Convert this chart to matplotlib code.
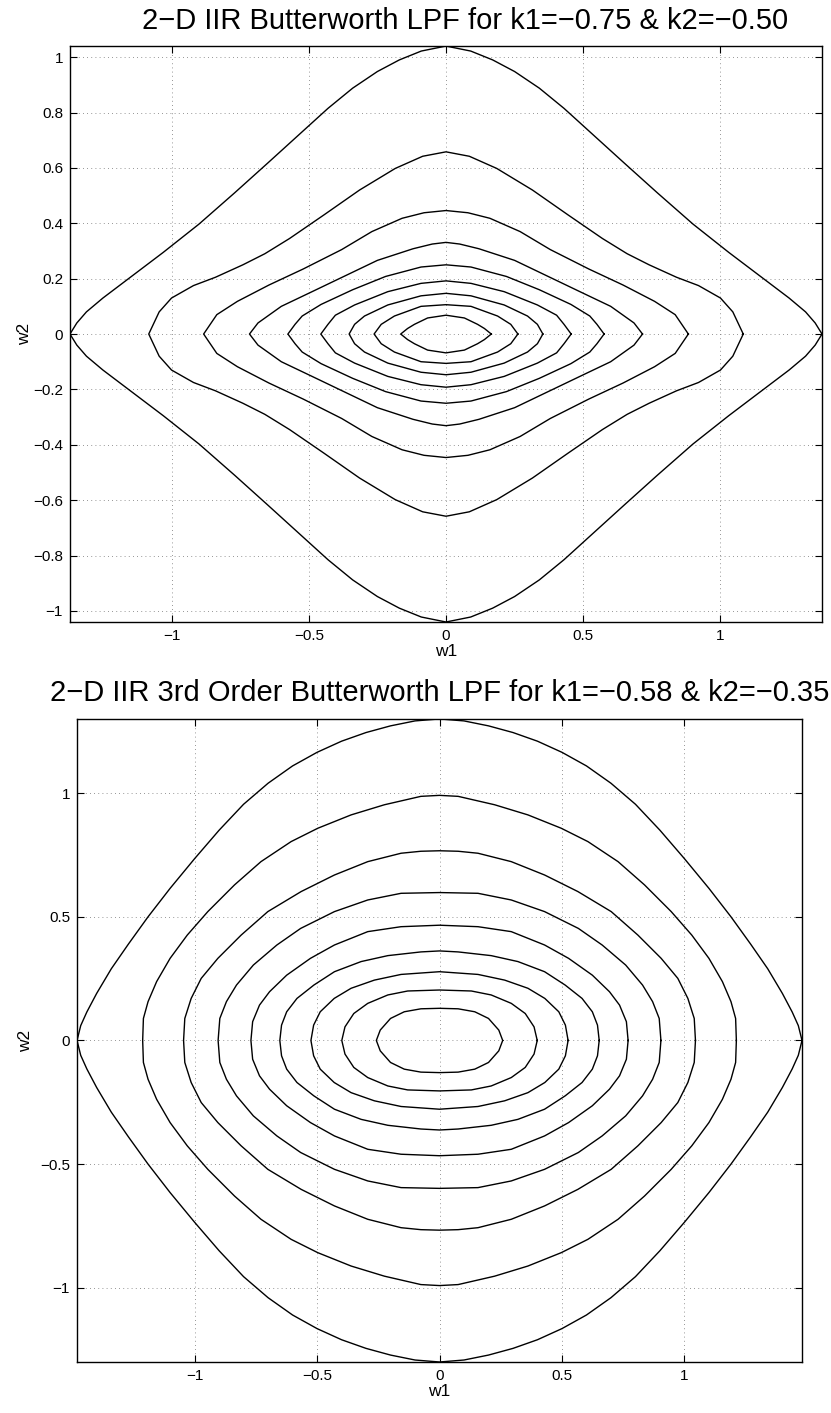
import matplotlib
matplotlib.use("Agg")
import matplotlib.pyplot as plt
import numpy as np

plt.rcParams['font.family'] = ['Liberation Sans', 'DejaVu Sans']

# ---------------- data (first-quadrant contour profiles, mirrored) ----------------
title_top = "2\u2212D IIR Butterworth LPF for k1=\u22120.75 & k2=\u22120.50"
title_bot = "2\u2212D IIR 3rd Order Butterworth LPF for k1=\u22120.58 & k2=\u22120.35"

top_xlim = 1.37
top_ylim = 1.04
top_xticks = [-1, -0.5, 0, 0.5, 1]
top_yticks = [-1, -0.8, -0.6, -0.4, -0.2, 0, 0.2, 0.4, 0.6, 0.8, 1]

# each contour: w1 values from the w1-axis tip to the w2-axis top, and matching w2 values
top_w1 = [
    [0.165, 0.14, 0.115, 0.067, 0.0],
    [0.262, 0.236, 0.188, 0.091, 0.0],
    [0.353, 0.333, 0.297, 0.212, 0.091, 0.0],
    [0.456, 0.43, 0.403, 0.333, 0.212, 0.091, 0.0],
    [0.576, 0.55, 0.524, 0.455, 0.34, 0.22, 0.091, 0.0],
    [0.716, 0.685, 0.60, 0.49, 0.37, 0.25, 0.12, 0.05, 0.0],
    [0.883, 0.835, 0.76, 0.645, 0.52, 0.38, 0.27, 0.16, 0.08, 0.0],
    [1.083, 1.045, 1.0, 0.92, 0.84, 0.74, 0.66, 0.57, 0.445, 0.315, 0.185, 0.085, 0.0],
    [1.37, 1.345, 1.31, 1.25, 1.15, 1.03, 0.90, 0.77, 0.65, 0.53, 0.43, 0.34, 0.25, 0.17, 0.09, 0.0],
]
top_w2 = [
    [0.0, 0.02, 0.035, 0.058, 0.068],
    [0.0, 0.035, 0.065, 0.100, 0.106],
    [0.0, 0.035, 0.065, 0.105, 0.138, 0.147],
    [0.0, 0.035, 0.068, 0.105, 0.153, 0.183, 0.192],
    [0.0, 0.035, 0.065, 0.107, 0.16, 0.208, 0.242, 0.25],
    [0.0, 0.04, 0.10, 0.152, 0.209, 0.266, 0.308, 0.325, 0.331],
    [0.0, 0.07, 0.118, 0.177, 0.235, 0.305, 0.37, 0.418, 0.438, 0.446],
    [0.0, 0.08, 0.13, 0.175, 0.205, 0.25, 0.29, 0.345, 0.43, 0.52, 0.598, 0.642, 0.658],
    [0.0, 0.04, 0.08, 0.13, 0.205, 0.295, 0.397, 0.51, 0.617, 0.725, 0.815, 0.888, 0.948, 0.99, 1.022, 1.04],
]

bot_xlim = 1.48
bot_ylim = 1.30
bot_xticks = [-1, -0.5, 0, 0.5, 1]
bot_yticks = [-1, -0.5, 0, 0.5, 1]

bot_w1 = [
    [0.258, 0.242, 0.200, 0.144, 0.076, 0.0],
    [0.399, 0.386, 0.350, 0.293, 0.211, 0.130, 0.0],
    [0.525, 0.514, 0.487, 0.430, 0.361, 0.266, 0.157, 0.0],
    [0.652, 0.645, 0.624, 0.582, 0.513, 0.429, 0.320, 0.211, 0.076, 0.0],
    [0.770, 0.763, 0.735, 0.694, 0.624, 0.527, 0.429, 0.293, 0.157, 0.0],
    [0.904, 0.897, 0.870, 0.829, 0.760, 0.664, 0.567, 0.429, 0.293, 0.157, 0.0],
    [1.045, 1.040, 1.014, 0.973, 0.905, 0.810, 0.701, 0.565, 0.429, 0.293, 0.157, 0.076, 0.0],
    [1.212, 1.209, 1.190, 1.155, 1.100, 1.030, 0.946, 0.837, 0.729, 0.606, 0.497, 0.361, 0.225, 0.076, 0.0],
    [1.48, 1.465, 1.44, 1.40, 1.34, 1.27, 1.19, 1.10, 1.00, 0.90, 0.80, 0.70, 0.60, 0.50, 0.40, 0.30, 0.20, 0.10, 0.0],
]
bot_w2 = [
    [0.0, 0.042, 0.089, 0.116, 0.128, 0.130],
    [0.0, 0.055, 0.109, 0.150, 0.184, 0.200, 0.204],
    [0.0, 0.062, 0.116, 0.170, 0.211, 0.244, 0.267, 0.278],
    [0.0, 0.062, 0.116, 0.170, 0.224, 0.278, 0.319, 0.343, 0.358, 0.362],
    [0.0, 0.076, 0.143, 0.197, 0.264, 0.332, 0.386, 0.440, 0.460, 0.466],
    [0.0, 0.089, 0.157, 0.224, 0.305, 0.386, 0.453, 0.521, 0.568, 0.595, 0.598],
    [0.0, 0.089, 0.170, 0.251, 0.332, 0.426, 0.521, 0.602, 0.669, 0.723, 0.757, 0.765, 0.767],
    [0.0, 0.089, 0.157, 0.238, 0.332, 0.426, 0.521, 0.629, 0.723, 0.804, 0.858, 0.912, 0.953, 0.987, 0.991],
    [0.0, 0.06, 0.115, 0.19, 0.29, 0.39, 0.50, 0.615, 0.735, 0.85, 0.955, 1.04, 1.11, 1.165, 1.21, 1.245, 1.272, 1.292, 1.30],
]


def closed_contour(qx, qy):
    qx = np.asarray(qx, float)
    qy = np.asarray(qy, float)
    xs = np.concatenate([qx, -qx[::-1], -qx, qx[::-1]])
    ys = np.concatenate([qy, qy[::-1], -qy, -qy[::-1]])
    return xs, ys


def style_axes(ax, xlim, ylim, xticks, yticks, ylabelpad):
    ax.set_xlim(-xlim, xlim)
    ax.set_ylim(-ylim, ylim)
    ax.set_xticks(xticks)
    ax.set_yticks(yticks)
    ax.set_xticklabels([f"{t:g}".replace("-", "\u2212") for t in xticks])
    ax.set_yticklabels([f"{t:g}".replace("-", "\u2212") for t in yticks])
    ax.tick_params(direction='in', top=True, right=True, length=5, width=0.8,
                   labelsize=11, pad=5)
    ax.grid(True, color='0.45', linestyle=(0, (1, 4)), linewidth=0.6)
    for s in ax.spines.values():
        s.set_linewidth(1.0)
    ax.set_xlabel('w1', fontsize=12.5, labelpad=1)
    ax.set_ylabel('w2', fontsize=12.5, labelpad=ylabelpad)


fig = plt.figure(figsize=(8.31, 14.13), dpi=100)

ax1 = fig.add_axes([0.0842, 0.5598, 0.9050, 0.4076])
for qx, qy in zip(top_w1, top_w2):
    xs, ys = closed_contour(qx, qy)
    ax1.plot(xs, ys, color='black', linewidth=1.0, clip_on=True)
style_axes(ax1, top_xlim, top_ylim, top_xticks, top_yticks, 1)
ax1.set_title(title_top, fontsize=21, pad=12, x=0.526)

ax2 = fig.add_axes([0.0927, 0.0361, 0.8724, 0.4551])
for qx, qy in zip(bot_w1, bot_w2):
    xs, ys = closed_contour(qx, qy)
    ax2.plot(xs, ys, color='black', linewidth=1.0, clip_on=True)
style_axes(ax2, bot_xlim, bot_ylim, bot_xticks, bot_yticks, 5)
ax2.set_title(title_bot, fontsize=21, pad=13)

fig.savefig('out.png', dpi=100, facecolor='white')
